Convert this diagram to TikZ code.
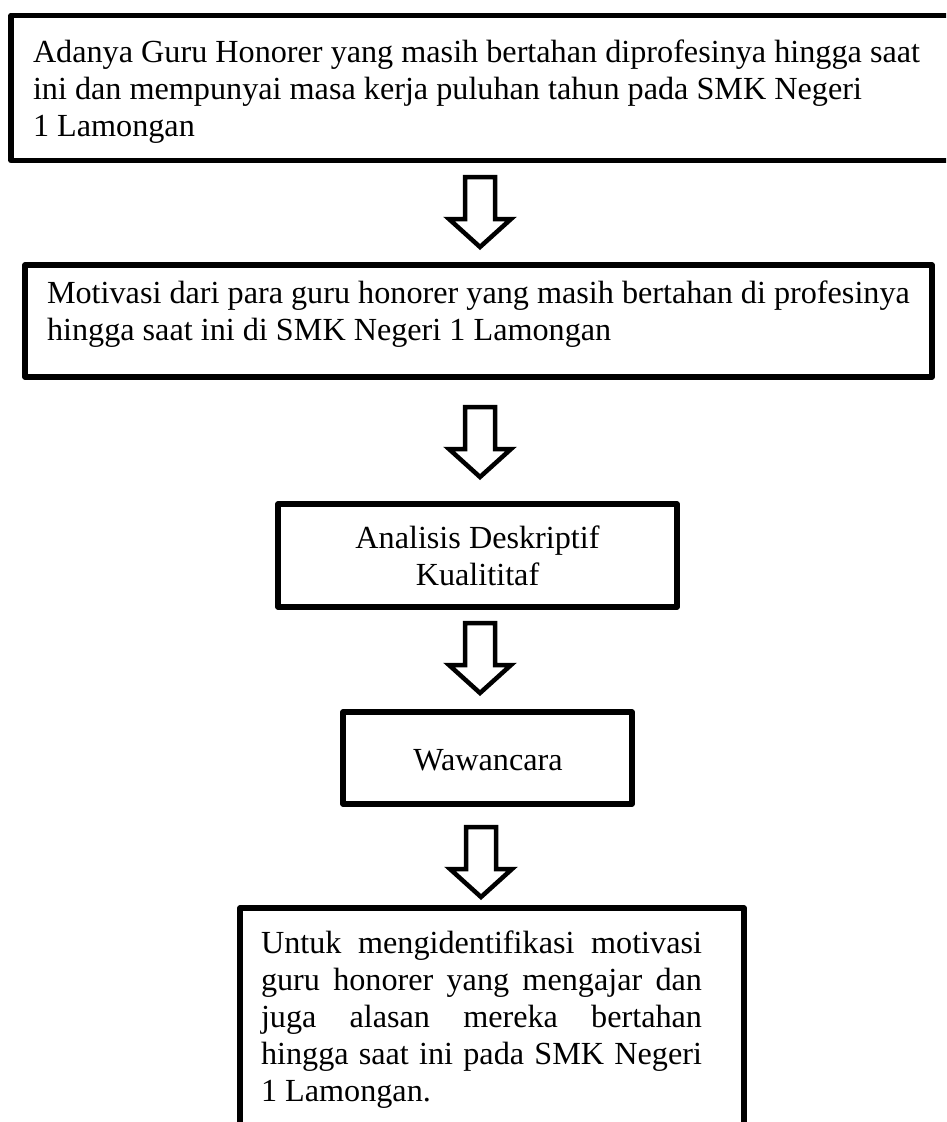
\documentclass[tikz,border=0pt]{standalone}
\usepackage{fontspec}
\setmainfont{Liberation Serif}
\begin{document}
\begin{tikzpicture}[x=1pt,y=1pt,
  box/.style={draw, line width=5.5pt, line join=round, rectangle, inner sep=0pt, outer sep=0pt, anchor=north west},
  txt/.style={inner sep=0pt, outer sep=0pt, font=\fontsize{32.2pt}{37pt}\selectfont},
  blockarrow/.pic={\draw[line width=4.5pt, line join=miter] (-15,0) -- (15,0) -- (15,-42) -- (31,-42) -- (0,-70) -- (-31,-42) -- (-15,-42) -- cycle;}
]
\useasboundingbox (0,0) rectangle (946,-1122);
\clip (0,0) rectangle (946,-1122);

% boxes
\node[box, minimum width=959pt, minimum height=145pt] (b1) at (11,-15.5) {};
\node[box, minimum width=907pt, minimum height=112pt] (b2) at (25,-265) {};
\node[box, minimum width=399pt, minimum height=103pt] (b3) at (278,-504) {};
\node[box, minimum width=289pt, minimum height=92pt] (b4) at (343,-712) {};
\node[box, minimum width=504pt, minimum height=232pt] (b5) at (240,-908) {};

% texts (the base anchor of a multi-line node is the baseline of its last line)
\node[txt, align=left, anchor=base west] (t1) at (33,-136)
  {Adanya Guru Honorer yang masih bertahan diprofesinya hingga saat\\ini dan mempunyai masa kerja puluhan tahun pada SMK Negeri\\1 Lamongan};
\node[txt, align=left, anchor=base west] (t2) at (47,-340)
  {Motivasi dari para guru honorer yang masih bertahan di profesinya\\hingga saat ini di SMK Negeri 1 Lamongan};
\node[txt, align=center, anchor=base] (t3) at (477.5,-585)
  {Analisis Deskriptif\\Kualititaf};
\node[txt, anchor=base] (t4) at (488,-770) {Wawancara};
\node[txt, align=left, anchor=base west] (t5) at (261,-1101)
  {\makebox[441pt][s]{Untuk mengidentifikasi motivasi}\\
   \makebox[441pt][s]{guru honorer yang mengajar dan}\\
   \makebox[441pt][s]{juga alasan mereka bertahan}\\
   \makebox[441pt][s]{hingga saat ini pada SMK Negeri}\\
   1 Lamongan.};

% block arrows between the boxes
\pic (a1) at (480,-177) {blockarrow};
\pic (a2) at (480,-407) {blockarrow};
\pic (a3) at (480,-623) {blockarrow};
\pic (a4) at (481,-827) {blockarrow};
\end{tikzpicture}
\end{document}
